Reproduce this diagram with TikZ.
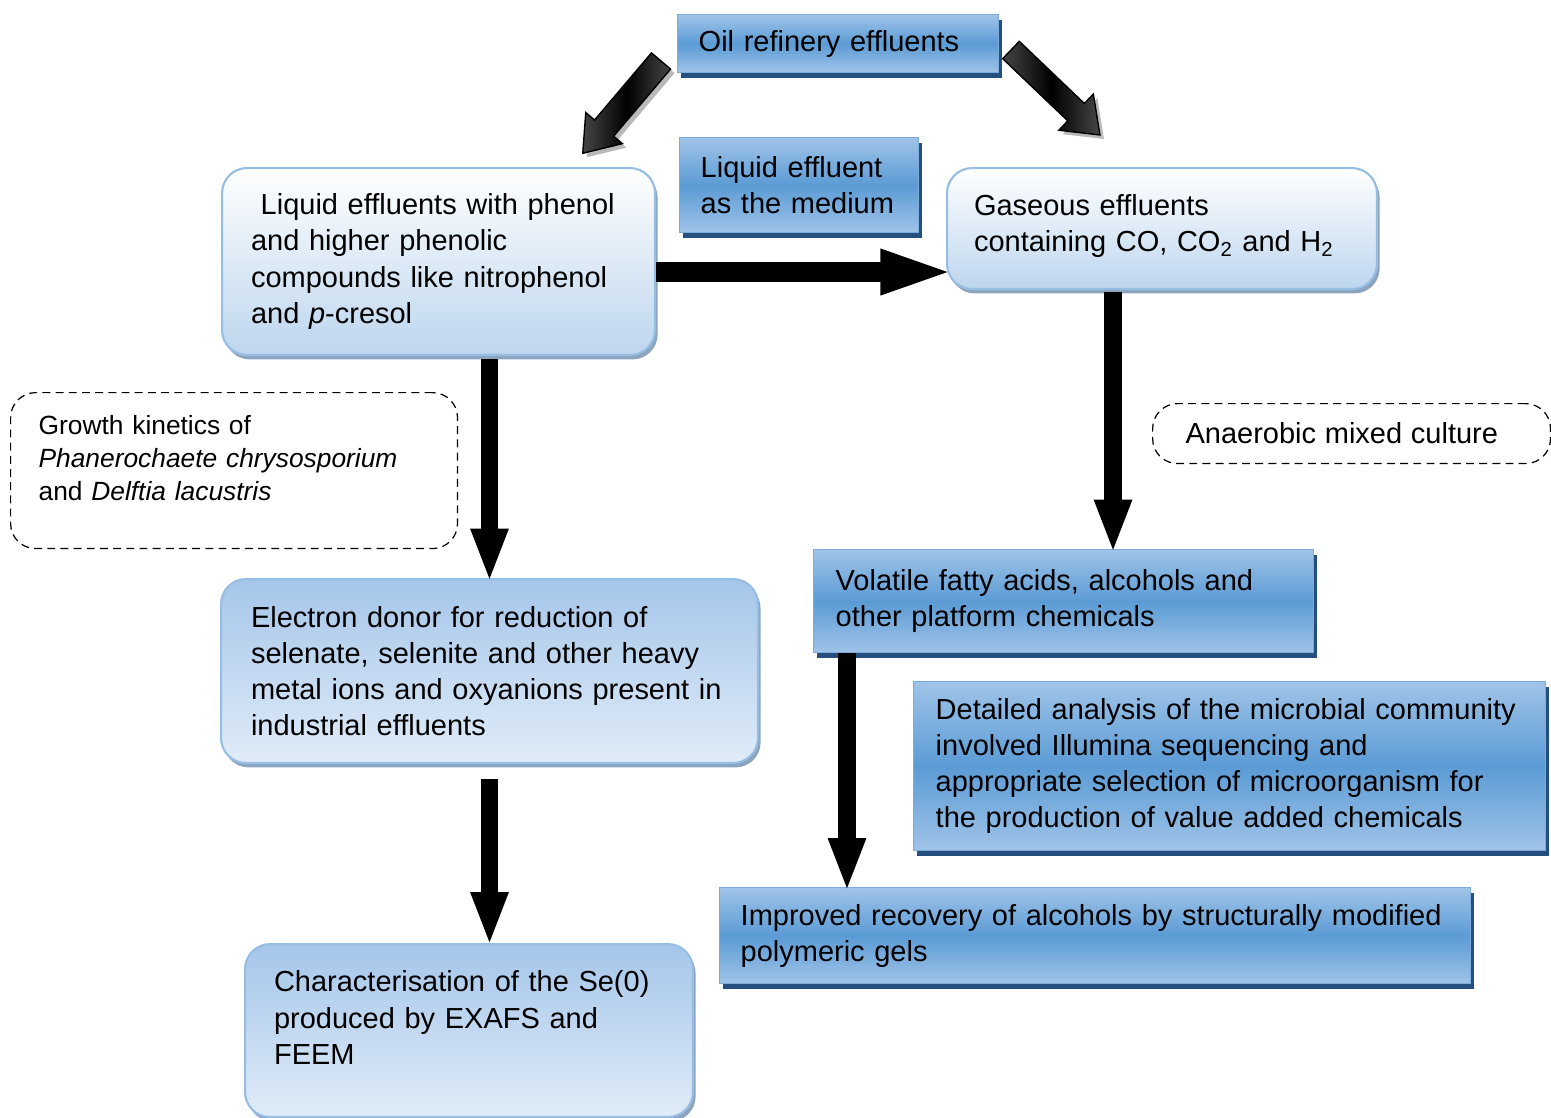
\documentclass[tikz,border=0pt]{standalone}
\usepackage{fontspec}
\setmainfont{Liberation Sans}
\usetikzlibrary{arrows.meta, positioning, shadows}
\definecolor{bmid}{RGB}{91,155,213}
\definecolor{blight}{RGB}{160,196,232}
\definecolor{bedge}{RGB}{125,172,220}
\definecolor{bshade}{RGB}{37,79,126}
\definecolor{redge}{RGB}{150,190,228}
\definecolor{rbot}{RGB}{189,214,238}
\definecolor{rshade}{RGB}{140,164,190}
\definecolor{etop}{RGB}{165,198,234}
\definecolor{ebot}{RGB}{224,236,248}
\tikzset{
  txt/.style={font=\fontsize{16.5}{20.6}\selectfont, align=left, anchor=north west, inner ysep=2pt},
  bbox/.style={txt, draw=bedge, line width=0.8pt, top color=blight, bottom color=blight, middle color=bmid,
    drop shadow={shadow xshift=1.7pt, shadow yshift=-2.8pt, fill=bshade, opacity=1}},
  rbox/.style={txt, draw=redge, line width=1.2pt, rounded corners=0.5cm, top color=white, bottom color=rbot,
    drop shadow={shadow xshift=1.5pt, shadow yshift=-2.5pt, fill=rshade, opacity=1}},
  ebox/.style={rbox, top color=etop, bottom color=ebot},
  dbox/.style={draw, dash pattern=on 4.5pt off 3pt, line width=0.7pt, rounded corners=0.5cm, align=left,
    anchor=north west, inner ysep=2pt, font=\fontsize{15}{18.7}\selectfont},
  barrow/.style={line width=10.2pt, -{Triangle[width=19.3pt, length=30.6pt]}},
  harrow/.style={line width=11.9pt, -{Triangle[width=22.7pt, length=43pt]}},
  fatarrow/.style={draw=black, line width=0.8pt, left color=gray!55!black, right color=gray!55!black, middle color=black},
}
\begin{document}
\begin{tikzpicture}[x=0.02cm, y=-0.02cm]
  \useasboundingbox (0,0) rectangle (1551,1118);
  % fat arrows from the top box
  \begin{scope}[shift={(665,65)}, rotate=-130.3]
    \fill[gray!55] (0,-12.5) -- (88,-12.5) -- (88,-24) -- (121,0) -- (88,24) -- (88,12.5) -- (0,12.5) -- cycle;
  \end{scope}
  \begin{scope}[shift={(661,61)}, rotate=-130.3]
    \shade[fatarrow] (0,-12.5) -- (88,-12.5) -- (88,-24) -- (121,0) -- (88,24) -- (88,12.5) -- (0,12.5) -- cycle;
  \end{scope}
  \begin{scope}[shift={(1015,54)}, rotate=-43.7]
    \fill[gray!55] (0,-12) -- (90,-12) -- (90,-25) -- (123,0) -- (90,25) -- (90,12) -- (0,12) -- cycle;
  \end{scope}
  \begin{scope}[shift={(1011,50)}, rotate=-43.7]
    \shade[fatarrow] (0,-12) -- (90,-12) -- (90,-25) -- (123,0) -- (90,25) -- (90,12) -- (0,12) -- cycle;
  \end{scope}
  % blue boxes
  \node[bbox, text width=5.58cm, inner xsep=0.42cm, minimum height=1.16cm] (oil) at (677,14) {Oil refinery effluents};
  \node[bbox, text width=3.94cm, inner xsep=0.42cm, minimum height=1.9cm] (med) at (679,137) {Liquid effluent\\as the medium};
  \node[bbox, text width=9.12cm, inner xsep=0.44cm, minimum height=2.06cm] (vfa) at (813,549)
    {Volatile fatty acids, alcohols and\\other platform chemicals};
  \node[bbox, text width=11.76cm, inner xsep=0.44cm, minimum height=3.38cm] (det) at (913,681)
    {Detailed analysis of the microbial community\\involved Illumina sequencing and\\appropriate selection of microorganism for\\the production of value added chemicals};
  \node[bbox, text width=14.18cm, inner xsep=0.42cm, minimum height=1.92cm] (imp) at (719,887)
    {Improved recovery of alcohols by structurally modified\\polymeric gels};
  % rounded boxes
  \node[rbox, text width=7.5cm, inner xsep=0.58cm, minimum height=3.74cm] (phenol) at (221,167)
    {\ Liquid effluents with phenol\\and higher phenolic\\compounds like nitrophenol\\and \textit{p}-cresol};
  \node[rbox, text width=7.52cm, inner xsep=0.54cm, minimum height=2.42cm] (gas) at (946,167)
    {Gaseous effluents\\containing CO, CO\textsubscript{2} and H\textsubscript{2}\rule[-0.22cm]{0pt}{0pt}};
  \node[ebox, text width=9.54cm, inner xsep=0.6cm, minimum height=3.68cm] (elec) at (220,578)
    {Electron donor for reduction of\\selenate, selenite and other heavy\\metal ions and oxyanions present in\\industrial effluents};
  \node[ebox, text width=7.8cm, inner xsep=0.58cm, minimum height=3.46cm] (char) at (244,943)
    {Characterisation of the Se(0)\\produced by EXAFS and\\FEEM\rule[-0.52cm]{0pt}{0pt}};
  % dashed notes
  \node[dbox, text width=7.82cm, inner xsep=0.56cm, minimum height=3.12cm] (growth) at (10,392)
    {Growth kinetics of\\\textit{Phanerochaete chrysosporium}\\and \textit{Delftia lacustris}\rule[-0.52cm]{0pt}{0pt}};
  \node[dbox, text width=6.64cm, inner xsep=0.66cm, minimum height=1.2cm] (anaer) at (1152,403)
    {\fontsize{16.5}{20.6}\selectfont Anaerobic mixed culture};
  % block arrows
  \coordinate (h0) at ([yshift=-0.21cm]phenol.east);
  \coordinate (h1) at (h0 -| gas.west);
  \draw[harrow] (h0) -- ([xshift=0.2cm]h1);
  \coordinate (p0) at ([yshift=-0.06cm]phenol.south -| elec.north);
  \draw[barrow] (p0) -- ([yshift=-0.09cm]elec.north);
  \coordinate (g0) at ([xshift=-0.98cm, yshift=-0.04cm]gas.south);
  \coordinate (g1) at (g0 |- vfa.north);
  \draw[barrow] (g0) -- ([yshift=-0.09cm]g1);
  \coordinate (e0) at ([yshift=-0.3cm]elec.south);
  \coordinate (e1) at (e0 |- char.north);
  \draw[barrow] (e0) -- ([yshift=-0.06cm]e1);
  \coordinate (v0) at ([xshift=0.68cm]vfa.south west);
  \coordinate (v1) at (v0 |- imp.north);
  \draw[barrow] (v0) -- ([yshift=-0.1cm]v1);
\end{tikzpicture}
\end{document}
